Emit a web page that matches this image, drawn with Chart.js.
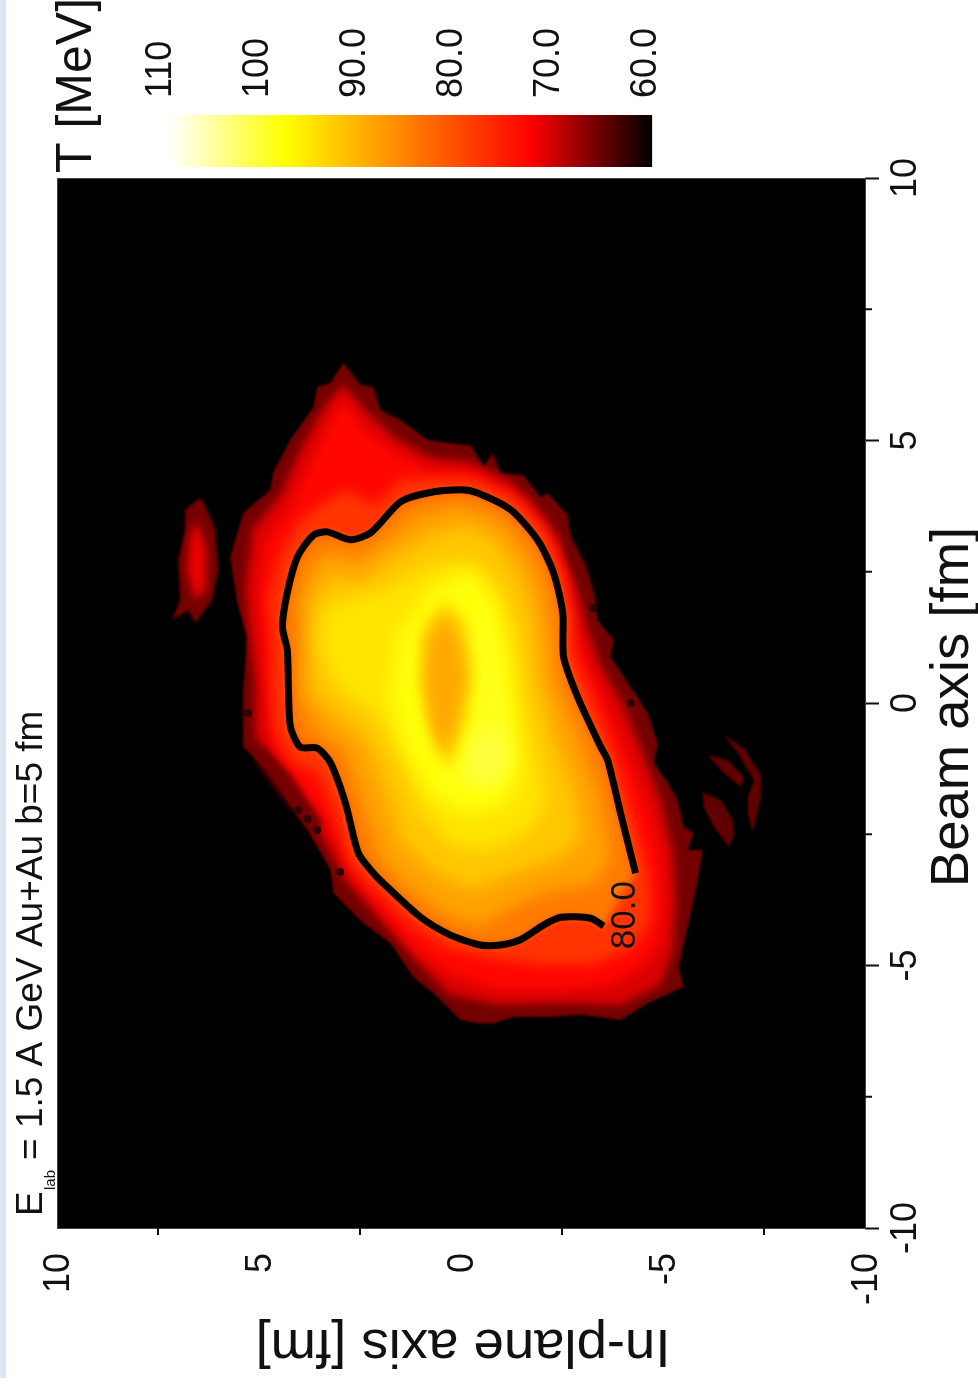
<!DOCTYPE html>
<html>
<head>
<meta charset="utf-8">
<title>T [MeV] map</title>
<script src="https://cdn.jsdelivr.net/npm/chart.js@4/dist/chart.umd.js"></script>
<style>
html,body{margin:0;padding:0;background:#fff;width:978px;height:1384px;overflow:hidden}
#strip{position:absolute;left:0;top:0;width:6px;height:1378px;background:#dce6f2}
canvas{position:absolute;left:0;top:0;filter:blur(0.6px)}
</style>
</head>
<body>
<div id="strip"></div>
<canvas id="main" width="978" height="1384"></canvas>
<canvas id="bar" width="978" height="178"></canvas>
<script>
// ---- data: [in-plane fm, beam fm] ----
const axisMajorTicks = [-10,-5,0,5,10];
const axisMinorTicks = [-7.5,-2.5,2.5,7.5];
const colorbarTicks = [60,70,80,90,100,110];
const colorbarTickLabels = ['60.0','70.0','80.0','90.0','100','110'];
const colorbarRange = [59.3,109];
const colormapLevels = [59.3,71.8,97.1,109];
const colormapColors = [[0,0,0],[255,0,0],[255,255,0],[255,255,255]];

const contour80 = [[-3.53,-4.25],[-3.21,-4.10],[-2.47,-4.08],[-2.04,-4.23],[-1.47,-4.51],[-.98,-4.61],[-.48,-4.61],[.26,-4.42],[1.00,-4.08],[1.75,-3.56],[2.17,-3.24],[2.54,-2.86],[2.86,-1.91],[3.23,-1.14],[3.56,-.86],[3.98,-.84],[4.22,-.46],[4.27,.25],[4.30,1.01],[4.42,1.45],[4.30,2.10],[4.05,2.78],[3.65,3.20],[3.31,3.26],[2.74,3.11],[2.24,3.24],[1.50,3.83],[.83,4.00],[.01,4.06],[-.41,4.00],[-1.23,3.68],[-1.90,3.10],[-2.29,2.48],[-2.52,1.71],[-2.54,.88],[-2.89,.11],[-3.46,-.84],[-3.63,-1.09],[-3.95,-2.10],[-4.32,-3.24]];

const edge = [[2.91,6.48],[2.49,6.06],[2.17,6.02],[1.99,5.58],[1.50,5.39],[.83,5.01],[.26,4.95],[-.24,4.91],[-.56,4.49],[-.78,4.76],[-.98,4.38],[-1.55,4.34],[-1.97,3.92],[-2.14,4.00],[-2.64,3.58],[-2.71,3.16],[-3.04,2.67],[-3.28,2.10],[-3.38,1.58],[-3.78,1.20],[-3.70,.88],[-4.03,.50],[-4.62,-.19],[-4.87,-.80],[-4.77,-1.14],[-5.12,-1.52],[-5.36,-1.85],[-5.51,-2.36],[-5.76,-2.48],[-5.61,-2.80],[-5.98,-2.80],[-5.86,-3.37],[-5.61,-4.27],[-5.39,-5.03],[-5.51,-5.41],[-4.62,-5.72],[-3.95,-6.04],[-2.96,-5.94],[-2.22,-5.98],[-1.30,-5.98],[-.81,-6.10],[-.41,-6.10],[.01,-6.04],[.58,-5.60],[1.18,-5.22],[1.75,-4.57],[2.42,-4.19],[3.16,-3.62],[3.23,-3.18],[3.80,-2.42],[4.79,-1.28],[5.39,-.84],[5.39,.25],[5.29,1.26],[5.54,1.91],[5.71,2.78],[5.39,3.62],[4.72,4.06],[4.65,4.38],[4.23,5.01],[3.65,5.64],[3.56,6.02],[3.23,6.10]];
const band69 = [[2.91,6.06],[2.37,5.58],[1.62,5.05],[.76,4.67],[-.24,4.59],[-1.23,4.21],[-1.85,3.77],[-2.47,3.11],[-2.84,2.34],[-3.09,1.49],[-3.46,.72],[-4.08,-.13],[-4.57,-1.09],[-4.94,-1.85],[-5.24,-2.80],[-5.32,-3.75],[-5.24,-4.71],[-4.94,-5.37],[-3.95,-5.75],[-2.47,-5.72],[-.98,-5.75],[.26,-5.56],[1.00,-4.99],[1.87,-4.23],[2.86,-3.37],[3.60,-2.32],[4.47,-1.37],[5.09,-.61],[5.09,.44],[5.22,1.20],[5.34,2.15],[5.17,3.30],[4.47,3.96],[3.98,4.82],[3.36,5.68]];
const band72 = [[2.91,5.77],[2.37,5.20],[1.62,4.76],[.76,4.44],[-.24,4.40],[-1.10,4.06],[-1.72,3.58],[-2.22,3.01],[-2.59,2.25],[-2.84,1.39],[-3.21,.63],[-3.75,-.23],[-4.25,-1.18],[-4.65,-2.04],[-4.94,-2.90],[-5.02,-3.75],[-4.94,-4.51],[-4.57,-4.99],[-3.70,-5.37],[-2.47,-5.47],[-.98,-5.47],[.26,-5.18],[1.13,-4.71],[1.87,-4.04],[2.61,-3.37],[3.23,-2.42],[3.98,-1.66],[4.72,-.80],[4.84,.25],[4.92,1.20],[5.02,2.15],[4.84,3.11],[4.22,3.77],[3.68,4.63],[3.23,5.39]];
const darkLeft = [[4.92,-.80],[4.22,-1.37],[3.43,-2.27],[3.60,-2.51],[4.35,-1.85],[5.09,-1.09]];
const darkRight = [[-2.59,3.30],[-3.09,2.53],[-3.33,1.77],[-3.09,1.96],[-2.59,2.82]];
const band77 = [[2.86,4.06],[2.12,3.77],[1.50,4.25],[.76,4.29],[-.24,4.29],[-1.35,3.92],[-2.09,3.30],[-2.52,2.53],[-2.76,1.68],[-2.79,.91],[-3.21,.15],[-3.70,-.80],[-3.95,-1.37],[-4.32,-2.32],[-4.65,-3.28],[-4.70,-4.13],[-4.20,-4.71],[-3.21,-4.99],[-2.09,-4.99],[-.73,-4.86],[.38,-4.67],[1.25,-4.23],[1.99,-3.66],[2.74,-3.09],[3.11,-2.13],[3.53,-1.37],[4.22,-1.09],[4.60,-.51],[4.67,.25],[4.67,1.20],[4.77,1.96],[4.47,2.82],[3.98,3.49],[3.48,3.77]];
const band86 = [[3.98,1.20],[4.03,1.96],[3.73,2.63],[3.23,2.91],[2.61,2.72],[1.87,3.11],[1.13,3.58],[.01,3.77],[-.98,3.49],[-1.72,2.82],[-2.09,2.15],[-2.27,1.20],[-2.34,.44],[-2.96,-.70],[-3.46,-1.85],[-3.70,-2.99],[-3.21,-3.47],[-2.22,-3.56],[-1.35,-3.85],[-.48,-4.23],[.38,-4.04],[1.25,-3.56],[1.99,-2.99],[2.37,-2.04],[2.86,-.90],[3.60,-.51],[3.98,.06]];
const band89 = [[3.73,1.20],[3.68,1.96],[3.23,2.44],[2.49,2.34],[1.62,2.82],[.76,3.20],[-.11,3.39],[-.85,3.11],[-1.47,2.44],[-1.80,1.58],[-1.92,.44],[-2.34,-.70],[-2.84,-1.75],[-2.96,-2.61],[-2.34,-2.99],[-1.23,-3.28],[-.24,-3.56],[.76,-3.18],[1.50,-2.61],[1.87,-1.66],[2.37,-.70],[3.11,-.23],[3.73,.25]];
const band92 = [[3.48,1.01],[3.43,1.77],[2.86,1.96],[1.87,2.15],[.76,2.63],[-.24,2.72],[-.98,2.15],[-1.42,1.20],[-1.52,.25],[-1.85,-.90],[-2.09,-1.85],[-1.72,-2.42],[-.73,-2.80],[.26,-2.71],[1.00,-2.04],[1.50,-1.09],[2.12,-.23],[2.99,.25]];
const band95 = [[1.62,1.20],[.76,2.15],[-.24,2.53],[-.85,1.96],[-1.18,.82],[-1.35,-.32],[-1.47,-1.28],[-1.10,-1.94],[-.11,-2.13],[.76,-1.75],[1.38,-.90],[1.75,.06]];
const hot98 = [[-.48,1.96],[-.85,1.01],[-1.03,.06],[-1.23,-.90],[-.98,-1.56],[-.11,-1.66],[.51,-1.28],[-.24,-.90],[-.43,.06],[-.36,1.20]];
const hot100 = [[-.24,-.61],[-.98,-.42],[-1.23,-1.09],[-.85,-1.56],[-.11,-1.47]];
const dip90 = [[.38,1.96],[-.11,1.49],[-.28,.63],[-.11,-.32],[.31,-1.28],[.76,-.51],[1.00,.44],[.95,1.39]];
const dip88 = [[.46,1.68],[.06,1.20],[-.11,.44],[.14,-.42],[.46,-.99],[.76,-.32],[.88,.44],[.81,1.20]];
const islandLeft = [[6.45,3.91],[6.28,3.68],[6.08,3.30],[6.01,2.53],[6.16,1.96],[6.58,1.52],[6.75,1.77],[7.15,1.58],[6.95,1.96],[7.00,2.72],[6.83,3.30],[6.83,3.68]];
const islandLeftCore = [[6.55,3.49],[6.31,2.91],[6.33,2.15],[6.58,1.96],[6.78,2.53],[6.70,3.20]];
const islandRightA = [[-5.98,-1.70],[-6.43,-1.85],[-6.73,-2.23],[-6.75,-2.55],[-6.63,-2.74],[-6.26,-2.36],[-6.01,-1.98]];
const islandRightB = [[-6.11,-.99],[-6.60,-1.09],[-7.00,-1.41],[-6.93,-1.60],[-6.50,-1.33]];
const islandRightC = [[-6.50,-.61],[-7.00,-.86],[-7.42,-1.37],[-7.42,-1.79],[-7.22,-2.46],[-7.10,-2.10],[-7.10,-1.79],[-7.25,-1.47],[-6.85,-.95]];
const edgeHoles = [[-3.26,1.81],[-4.20,0],[5.27,-.19],[4.03,-2.04],[3.80,-2.21],[3.56,-2.42],[2.99,-3.22]];

const layers = [
  {name:'edge',pts:edge,T:65,blur:1.2},
  {name:'band69',pts:band69,T:70,blur:4},
  {name:'band72',pts:band72,T:72.5,blur:6},
  {name:'darkLeft',pts:darkLeft,T:65,blur:3},
  {name:'darkRight',pts:darkRight,T:65,blur:3},
  {name:'band77',pts:band77,T:77,blur:6},
  {name:'inside80',pts:contour80,T:84,blur:4},
  {name:'band86',pts:band86,T:88,blur:8},
  {name:'band89',pts:band89,T:91.5,blur:8},
  {name:'band92',pts:band92,T:94.5,blur:9},
  {name:'band95',pts:band95,T:97.5,blur:9},
  {name:'hot98',pts:hot98,T:98.5,blur:8},
  {name:'hot100',pts:hot100,T:100,blur:8},
  {name:'dip90',pts:dip90,T:92,blur:7},
  {name:'dip88',pts:dip88,T:88.5,blur:7},
  {name:'islandLeft',pts:islandLeft,T:65,blur:1.5},
  {name:'islandLeftCore',pts:islandLeftCore,T:71,blur:4},
  {name:'islandRightA',pts:islandRightA,T:64,blur:1.2},
  {name:'islandRightB',pts:islandRightB,T:64,blur:1.2},
  {name:'islandRightC',pts:islandRightC,T:64,blur:1.2}
];

function heatColor(T){
  const L=colormapLevels,C=colormapColors;
  if(T<=L[0]) return 'rgb('+C[0].join(',')+')';
  for(let i=1;i<L.length;i++){
    if(T<=L[i]){
      const f=(T-L[i-1])/(L[i]-L[i-1]);
      return 'rgb('+C[i].map((c,k)=>Math.round(C[i-1][k]+(c-C[i-1][k])*f)).join(',')+')';
    }
  }
  return 'rgb('+C[C.length-1].join(',')+')';
}
const FONT='"Liberation Sans", Arial, sans-serif';
function rotText(ctx,txt,x,y,deg,size,align){
  ctx.save();ctx.translate(x,y);ctx.rotate(deg*Math.PI/180);
  ctx.font=size+'px '+FONT;ctx.fillStyle='#111';ctx.textAlign=align||'left';ctx.textBaseline='alphabetic';
  ctx.fillText(txt,0,0);ctx.restore();
}

const heatPlugin={
  id:'heat',
  beforeDatasetsDraw(chart){
    const {ctx,chartArea:a}=chart;
    ctx.save();ctx.fillStyle='#000';ctx.fillRect(a.left,a.top,a.width,a.height);ctx.restore();
  },
  beforeDatasetDraw(chart,args){
    const ds=chart.data.datasets[args.index];
    if(!ds.heatColor) return;
    const ctx=chart.ctx;
    ctx.save();
    ctx.filter='blur('+ds.heatBlur+'px)';
    ctx.fillStyle=ds.heatColor;
    ctx.beginPath();
    args.meta.data.forEach((p,i)=>{ i?ctx.lineTo(p.x,p.y):ctx.moveTo(p.x,p.y); });
    ctx.closePath();ctx.fill();
    ctx.restore();
  },
  afterDraw(chart){
    const {ctx,chartArea:a,scales:{x,y}}=chart;
    ctx.save();
    ctx.strokeStyle='#444';ctx.lineWidth=1;
    ctx.strokeRect(a.left+.5,a.top+.5,a.width,a.height);
    ctx.strokeStyle='#111';ctx.lineWidth=2;ctx.beginPath();
    axisMinorTicks.forEach(v=>{
      const px=x.getPixelForValue(v),py=y.getPixelForValue(v);
      ctx.moveTo(px,a.bottom);ctx.lineTo(px,a.bottom+7);
      ctx.moveTo(a.right,py);ctx.lineTo(a.right+7,py);
    });
    ctx.stroke();ctx.restore();
    // titles and annotations
    rotText(ctx,'Beam axis [fm]',968,707,-90,54.5,'center');
    rotText(ctx,'In-plane axis [fm]',463,1330,180,54.5,'center');
    rotText(ctx,'E',42,1216,-90,37);
    rotText(ctx,'lab',55,1190,-90,15);
    rotText(ctx,'= 1.5 A GeV Au+Au b=5 fm',42,1160,-90,37);
    rotText(ctx,'80.0',x.getPixelForValue(-4.30),y.getPixelForValue(-4.04),-90,35,'center');
  }
};

const datasets=layers.map((l,i)=>({
  label:l.name,
  data:l.pts.map(p=>({x:p[0],y:p[1]})),
  showLine:false,pointRadius:0,
  order:layers.length+2-i,
  heatColor:heatColor(l.T),heatBlur:l.blur
}));
datasets.push({
  label:'edge holes',
  data:edgeHoles.map(p=>({x:p[0],y:p[1]})),
  showLine:false,pointRadius:4,pointBackgroundColor:'#300000',pointBorderWidth:0,order:1
});
datasets.push({
  label:'T = 80 MeV',
  data:contour80.map(p=>({x:p[0],y:p[1]})),
  showLine:true,pointRadius:0,borderColor:'#000',borderWidth:7,tension:.25,fill:false,order:0
});

const tickFont={family:FONT,size:36};
new Chart(document.getElementById('main'),{
  type:'scatter',
  data:{datasets},
  options:{
    responsive:false,animation:false,devicePixelRatio:1,
    layout:{padding:{left:57,top:178,right:0,bottom:0}},
    plugins:{legend:{display:false},tooltip:{enabled:false}},
    scales:{
      x:{type:'linear',reverse:true,min:-10,max:10,position:'bottom',
        afterFit(s){s.height=156;},
        afterBuildTicks(s){s.ticks=axisMajorTicks.map(v=>({value:v}));},
        grid:{display:false,drawOnChartArea:false,drawTicks:true,tickLength:14,tickColor:'#111',tickWidth:2},
        border:{display:false},
        ticks:{font:tickFont,color:'#111',minRotation:90,maxRotation:90,padding:11,labelOffset:2.5,autoSkip:false,callback:v=>String(v)}},
      y:{type:'linear',min:-10,max:10,position:'right',
        afterFit(s){s.width=113;},
        afterBuildTicks(s){s.ticks=axisMajorTicks.map(v=>({value:v}));},
        grid:{display:true,drawOnChartArea:false,drawTicks:true,tickLength:14,tickColor:'#111',tickWidth:2},
        border:{display:false},
        ticks:{font:tickFont,color:'#111',minRotation:90,maxRotation:90,crossAlign:'center',padding:1,autoSkip:false,callback:v=>String(v)}}
    }
  },
  plugins:[heatPlugin]
});

// colour bar
const barTextPlugin={
  id:'barText',
  afterDraw(chart){ rotText(chart.ctx,'T [MeV]',91,173,-90,50); }
};
new Chart(document.getElementById('bar'),{
  type:'bar',
  data:{labels:['T'],datasets:[{
    data:[colorbarRange],
    barPercentage:1,categoryPercentage:1,borderWidth:0,borderSkipped:false,
    backgroundColor(c){
      const ch=c.chart;
      if(!ch.chartArea) return '#000';
      const s=ch.scales.x;
      const a=s.getPixelForValue(colormapLevels[0]),b=s.getPixelForValue(colormapLevels[colormapLevels.length-1]);
      const g=ch.ctx.createLinearGradient(a,0,b,0);
      colormapLevels.forEach((T,i)=>g.addColorStop((T-colormapLevels[0])/(colormapLevels[colormapLevels.length-1]-colormapLevels[0]),heatColor(T)));
      return g;
    }
  }]},
  options:{
    indexAxis:'y',responsive:false,animation:false,devicePixelRatio:1,
    layout:{padding:{left:140.6,right:313.6,top:0,bottom:11}},
    plugins:{legend:{display:false},tooltip:{enabled:false}},
    scales:{
      x:{type:'linear',reverse:true,min:58,max:112,position:'top',
        afterFit(s){s.height=115;},
        afterBuildTicks(s){s.ticks=colorbarTicks.map(v=>({value:v}));},
        grid:{display:false,drawTicks:false},border:{display:false},
        ticks:{font:tickFont,color:'#111',minRotation:90,maxRotation:90,padding:17,labelOffset:44,autoSkip:false,
          callback:v=>colorbarTickLabels[colorbarTicks.indexOf(v)]}},
      y:{type:'category',display:false}
    }
  },
  plugins:[barTextPlugin]
});
</script>
</body>
</html>
